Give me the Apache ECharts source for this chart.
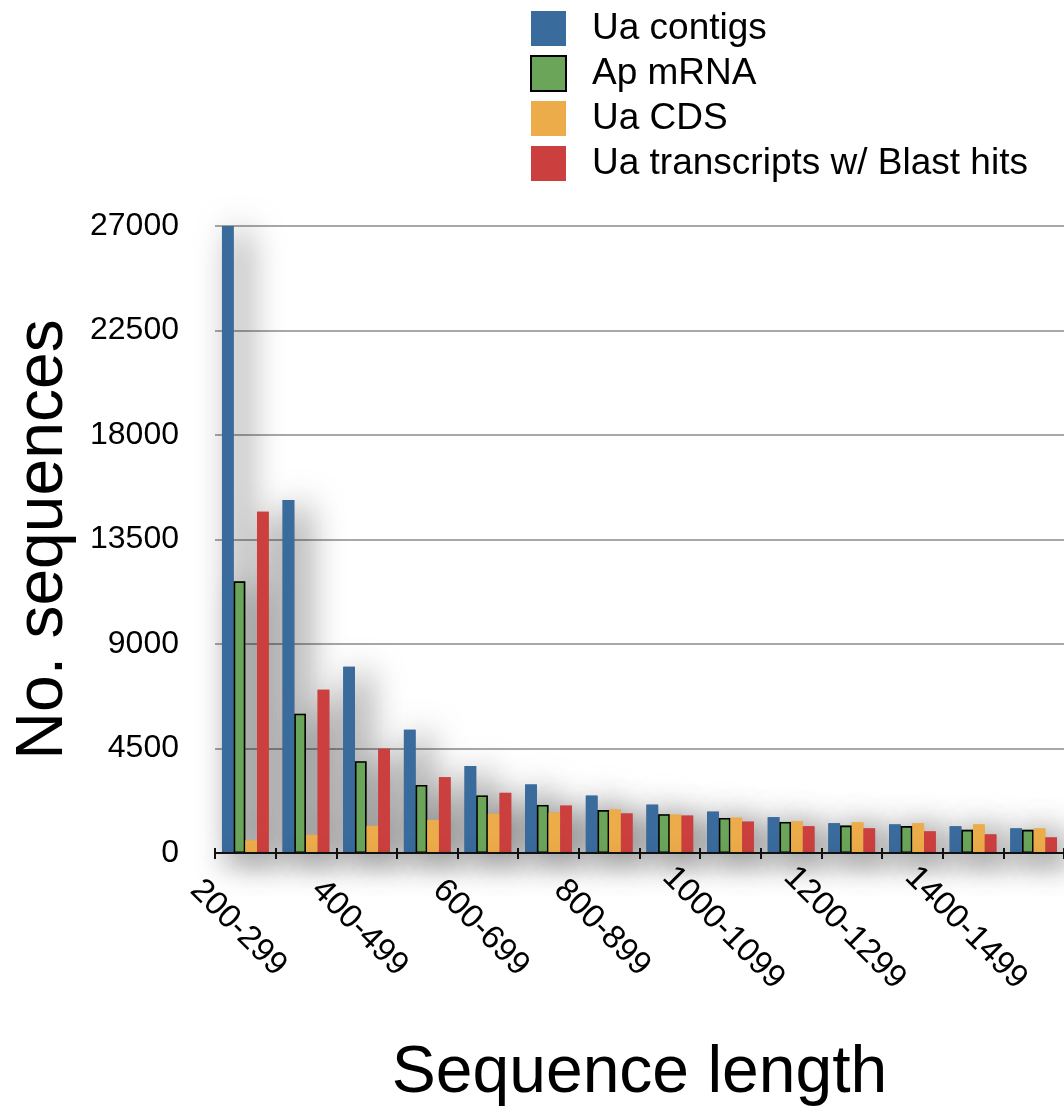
<!DOCTYPE html>
<html>
<head>
<meta charset="utf-8">
<script src="https://cdn.jsdelivr.net/npm/echarts@6/dist/echarts.min.js"></script>
<style>
  html, body { margin: 0; padding: 0; background: #fff; }
  #chart { width: 1064px; height: 1106px; }
</style>
</head>
<body>
<div id="chart"></div>
<script>
// sequence length bins
var categories = ['200-299', '300-399', '400-499', '500-599', '600-699', '700-799', '800-899',
  '900-999', '1000-1099', '1100-1199', '1200-1299', '1300-1399', '1400-1499', '1500-1599'];

var uaContigs = [27000, 15200, 8020, 5310, 3750, 2950, 2470, 2080, 1780, 1540, 1280, 1230, 1150, 1060];
var apMrna = [11700, 6000, 3950, 2930, 2480, 2070, 1850, 1670, 1510, 1340, 1180, 1160, 1000, 1000];
var uaCds = [540, 780, 1170, 1420, 1690, 1740, 1870, 1650, 1520, 1360, 1320, 1280, 1230, 1060];
var uaBlast = [14700, 7030, 4490, 3260, 2590, 2040, 1700, 1610, 1350, 1150, 1060, 930, 800, 670];

var yTicks = [0, 4500, 9000, 13500, 18000, 22500, 27000];

var FONT = '"Liberation Sans", Arial, Helvetica, sans-serif';

var chart = echarts.init(document.getElementById('chart'));

var names = ['Ua contigs', 'Ap mRNA', 'Ua CDS', 'Ua transcripts w/ Blast hits'];
var values = [uaContigs, apMrna, uaCds, uaBlast];
var colors = ['#3a6b9d', '#6ba55a', '#edac4a', '#cb403e'];

var series = [];
// shadow layer underneath (on the helper axis so the bars line up)
values.forEach(function (d, i) {
  series.push({
    name: 'shadow-' + i,
    type: 'bar',
    xAxisIndex: 1,
    data: d,
    z: 1,
    silent: true,
    barGap: '0%',
    barCategoryGap: '23%',
    itemStyle: {
      color: colors[i],
      shadowBlur: 34,
      shadowColor: 'rgba(0,0,0,0.62)',
      shadowOffsetX: 12,
      shadowOffsetY: 6
    }
  });
});
// visible bars
values.forEach(function (d, i) {
  var style = { color: colors[i] };
  if (i === 1) { style.borderColor = '#000'; style.borderWidth = 1.6; }
  series.push({
    name: names[i],
    type: 'bar',
    xAxisIndex: 0,
    data: d,
    z: 3,
    barGap: '0%',
    barCategoryGap: '23%',
    itemStyle: style
  });
});

var option = {
  backgroundColor: '#fff',
  animation: false,
  textStyle: { fontFamily: FONT },
  legend: {
    orient: 'vertical',
    left: 525,
    top: 5,
    icon: 'rect',
    itemWidth: 35,
    itemHeight: 35,
    itemGap: 8,
    textStyle: { fontSize: 37, color: '#000', fontFamily: FONT, padding: [0, 0, 0, 21] },
    data: names
  },
  grid: {
    left: 215,
    right: 0,
    top: 226,
    bottom: 253,
    containLabel: false,
    outerBoundsMode: 'none'
  },
  xAxis: [
    {
      type: 'category',
      data: categories,
      name: 'Sequence length',
      nameLocation: 'middle',
      nameGap: 188,
      nameTextStyle: { fontSize: 66, color: '#000', fontFamily: FONT },
      z: 4,
      axisLine: {
        lineStyle: {
          color: '#111', width: 2,
          shadowBlur: 20, shadowColor: 'rgba(0,0,0,0.55)', shadowOffsetY: 10
        }
      },
      axisTick: { show: true, interval: 0, length: 6, lineStyle: { color: '#111', width: 2 } },
      axisLabel: {
        interval: 1,
        rotate: -45,
        align: 'center',
        verticalAlign: 'middle',
        margin: 82,
        padding: [0, 20, 0, 0],
        fontSize: 33,
        color: '#000',
        fontFamily: FONT
      }
    },
    {
      // helper axis: inner half of the crossing ticks, carries the shadow layer
      type: 'category',
      data: categories,
      position: 'bottom',
      z: 4,
      axisLine: { show: false },
      axisTick: { show: true, inside: true, interval: 0, length: 5, lineStyle: { color: '#111', width: 2 } },
      axisLabel: { show: false },
      splitLine: { show: false }
    }
  ],
  yAxis: {
    type: 'value',
    min: yTicks[0],
    max: yTicks[yTicks.length - 1],
    interval: yTicks[1] - yTicks[0],
    name: 'No. sequences',
    nameLocation: 'middle',
    nameGap: 138,
    nameTextStyle: { fontSize: 66, color: '#000', fontFamily: FONT },
    axisLine: { show: false },
    axisTick: { show: false },
    axisLabel: {
      fontSize: 32, color: '#000', margin: 36, fontFamily: FONT,
      formatter: function (v) { return String(v); }
    },
    splitLine: { lineStyle: { color: '#a8a8a8', width: 2 } }
  },
  series: series
};

chart.setOption(option);
</script>
</body>
</html>
